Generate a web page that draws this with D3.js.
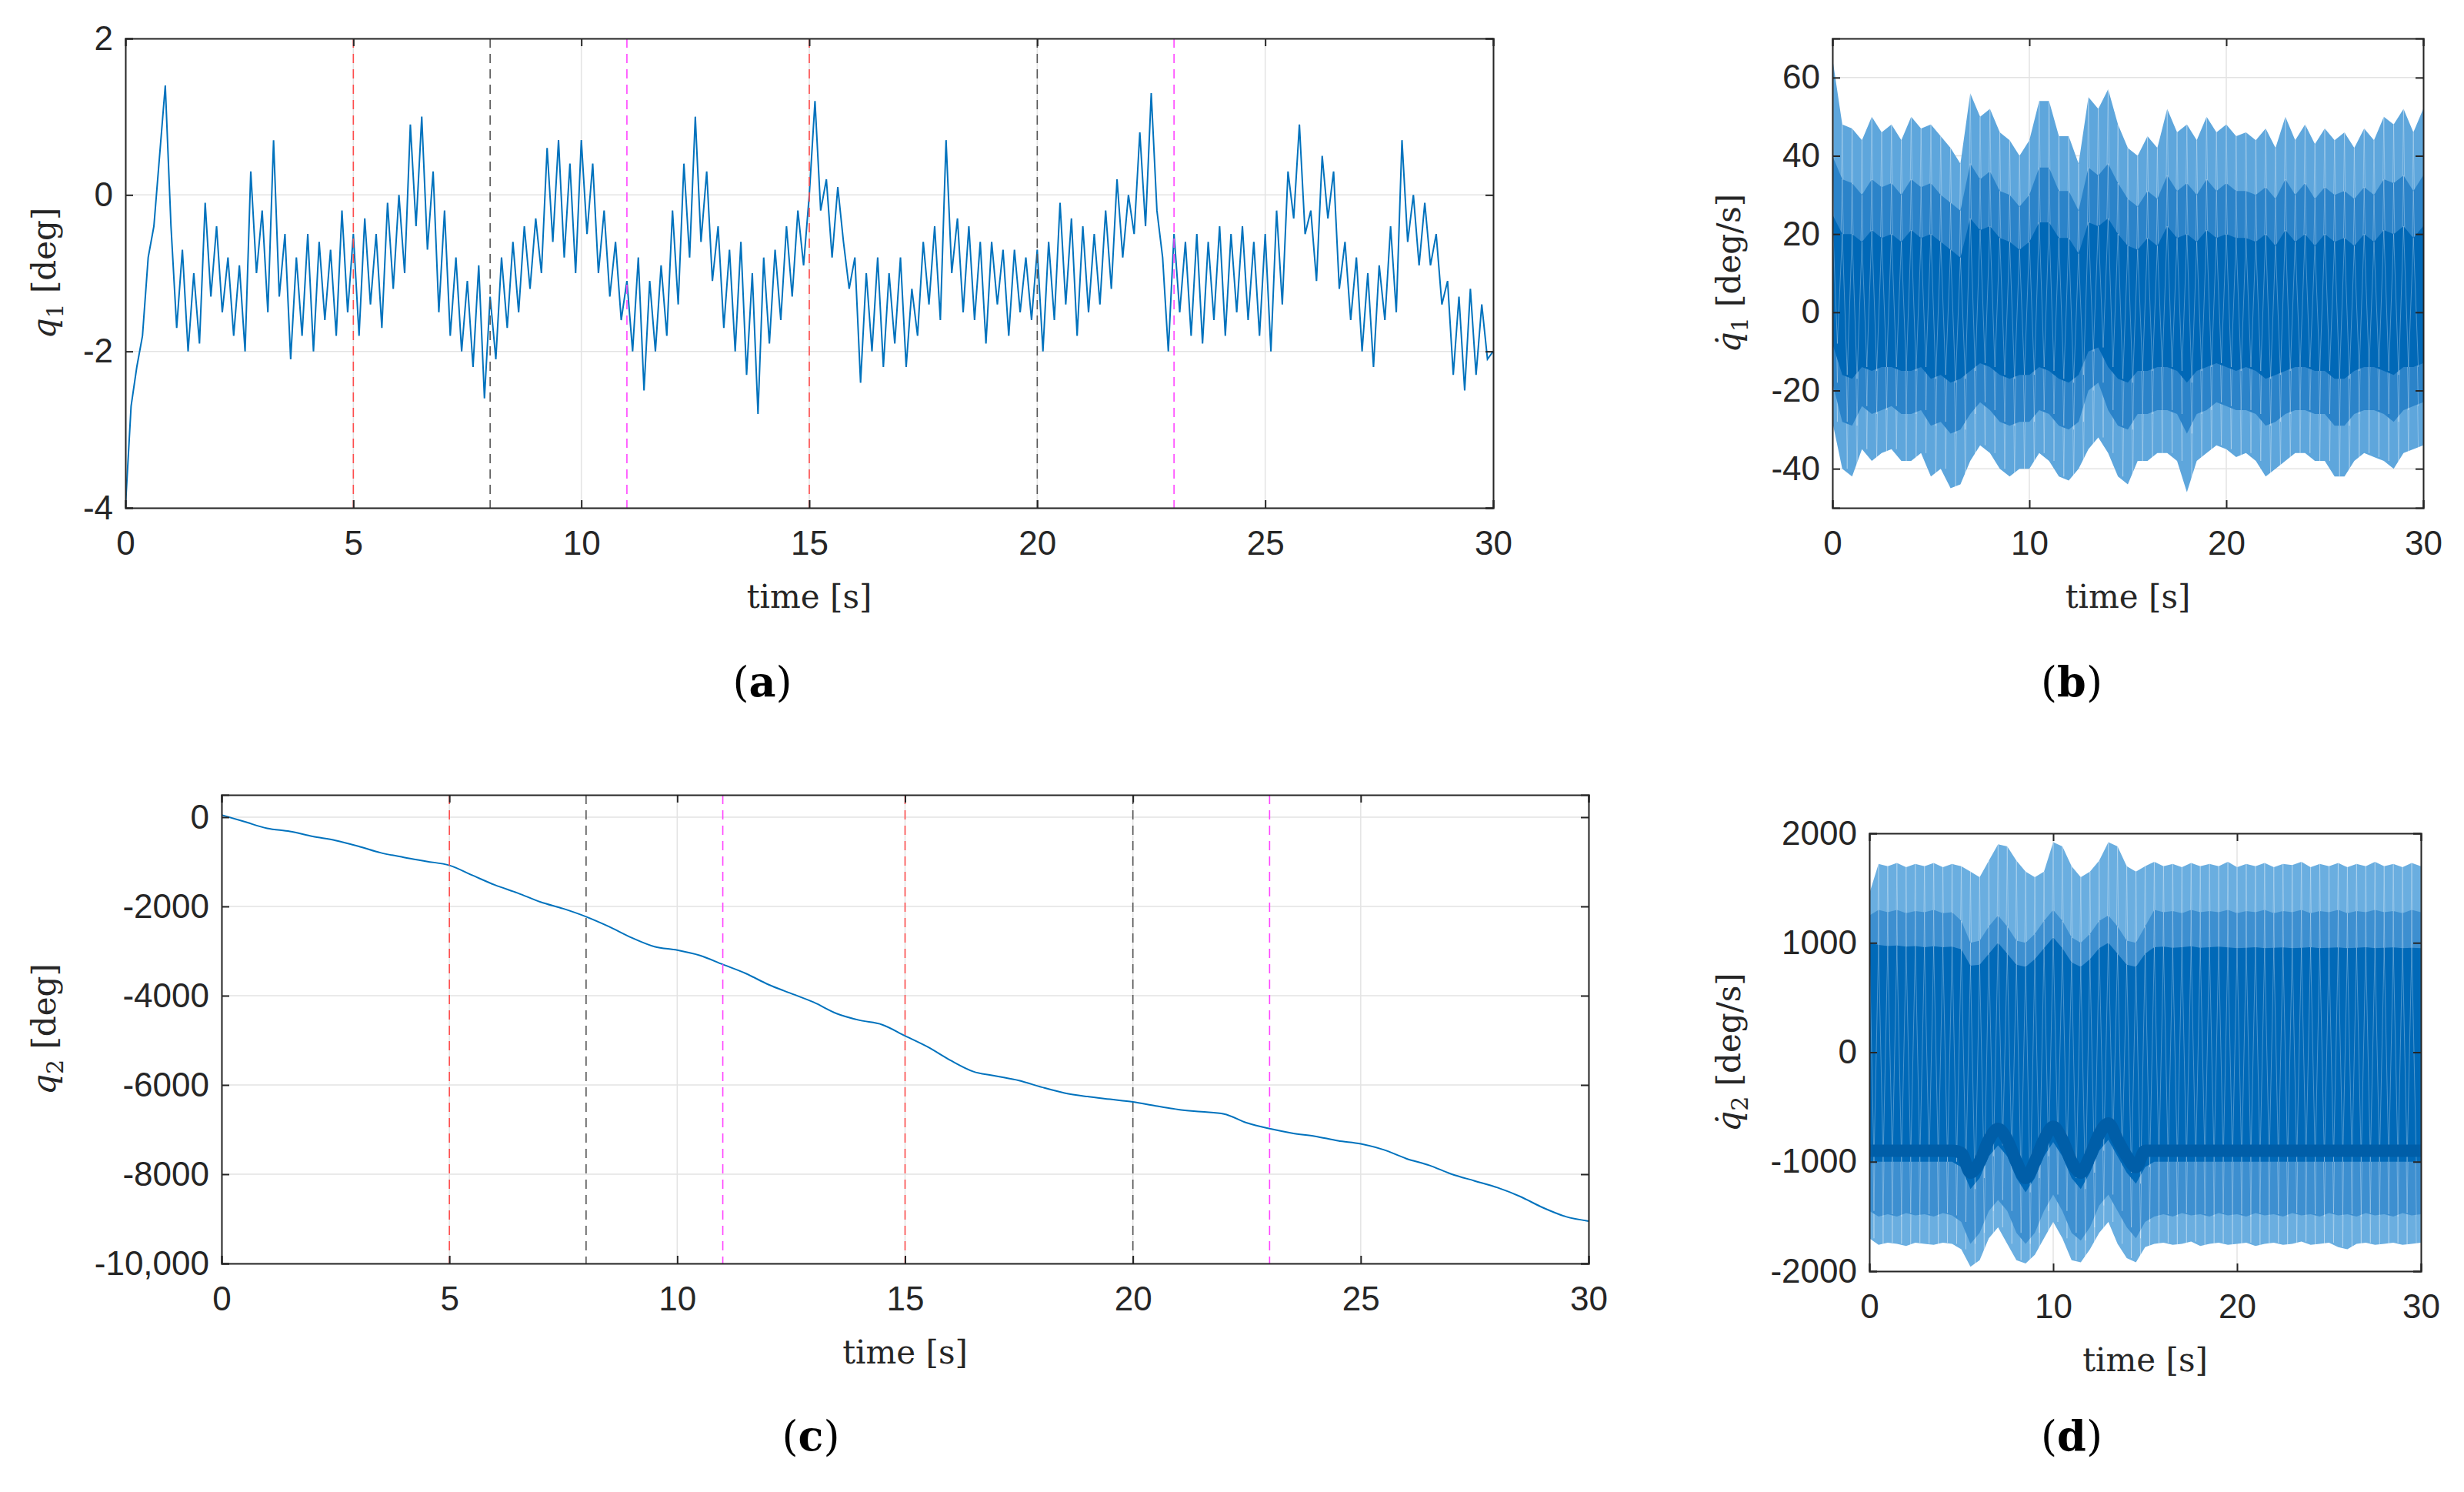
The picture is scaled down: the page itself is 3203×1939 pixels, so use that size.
<!DOCTYPE html>
<html>
<head>
<meta charset="utf-8">
<script src="https://cdn.jsdelivr.net/npm/d3@7"></script>
<style>
  body { margin: 0; background: #fff; }
  .tick text { font-family: "Liberation Sans", Arial, sans-serif; font-size: 44px; fill: #262626; }
</style>
</head>
<body>
<svg id="fig" width="3203" height="1939"></svg>
<script>
// q1 [deg], sampled every 0.125 s
const q1 = [
  -4.0,-2.7,-2.2,-1.8,-0.8,-0.4,0.5,1.4,
  -0.4,-1.7,-0.7,-2.0,-1.0,-1.9,-0.1,-1.3,
  -0.4,-1.5,-0.8,-1.8,-0.9,-2.0,0.3,-1.0,
  -0.2,-1.5,0.7,-1.3,-0.5,-2.1,-0.8,-1.8,
  -0.5,-2.0,-0.6,-1.6,-0.7,-1.8,-0.2,-1.5,
  -0.5,-1.8,-0.3,-1.4,-0.5,-1.7,-0.1,-1.2,
  0.0,-1.0,0.9,-0.4,1.0,-0.7,0.3,-1.5,
  -0.2,-1.8,-0.8,-2.0,-1.1,-2.2,-0.9,-2.6,
  -1.3,-2.1,-0.8,-1.7,-0.6,-1.5,-0.4,-1.2,
  -0.3,-1.0,0.6,-0.6,0.7,-0.8,0.4,-1.0,
  0.7,-0.5,0.4,-1.0,-0.2,-1.3,-0.6,-1.6,
  -1.1,-2.0,-0.8,-2.5,-1.1,-2.0,-0.9,-1.8,
  -0.2,-1.4,0.4,-0.8,1.0,-0.6,0.3,-1.1,
  -0.4,-1.7,-0.7,-2.0,-0.6,-2.3,-1.0,-2.8,
  -0.8,-1.9,-0.7,-1.6,-0.4,-1.3,-0.2,-0.9,
  0.0,1.2,-0.2,0.2,-0.8,0.1,-0.6,-1.2,
  -0.8,-2.4,-1.0,-2.0,-0.8,-2.2,-1.0,-1.9,
  -0.8,-2.2,-1.2,-1.8,-0.6,-1.4,-0.4,-1.6,
  0.7,-1.0,-0.3,-1.5,-0.4,-1.6,-0.6,-1.9,
  -0.6,-1.4,-0.7,-1.8,-0.7,-1.5,-0.8,-1.6,
  -0.7,-2.0,-0.6,-1.6,-0.1,-1.4,-0.3,-1.8,
  -0.4,-1.5,-0.5,-1.4,-0.2,-1.2,0.2,-0.8,
  0.0,-0.5,0.8,-0.4,1.3,-0.2,-0.8,-2.0,
  -0.5,-1.5,-0.6,-1.8,-0.5,-1.9,-0.6,-1.6,
  -0.4,-1.8,-0.5,-1.5,-0.4,-1.6,-0.6,-1.8,
  -0.5,-2.0,-0.2,-1.4,0.3,-0.3,0.9,-0.5,
  -0.2,-1.1,0.5,-0.3,0.3,-1.2,-0.6,-1.6,
  -0.8,-2.0,-1.0,-2.2,-0.9,-1.6,-0.4,-1.5,
  0.7,-0.6,0.0,-0.9,-0.1,-0.9,-0.5,-1.4,
  -1.1,-2.3,-1.3,-2.5,-1.2,-2.3,-1.4,-2.1,
  -2.0
];
const q1Step = 0.125;

// q2 [deg], every 0.5 s
const q2 = [50,-100,-250,-320,-430,-520,-650,-800,-900,-990,-1080,-1300,-1520,-1700,-1900,-2050,
  -2230,-2450,-2700,-2900,-2980,-3100,-3300,-3500,-3750,-3950,-4150,-4400,-4550,-4650,-4900,
  -5150,-5450,-5700,-5800,-5900,-6050,-6180,-6260,-6320,-6380,-6470,-6550,-6600,-6650,-6850,
  -6980,-7080,-7150,-7250,-7320,-7450,-7650,-7800,-8000,-8150,-8300,-8500,-8750,-8950,-9050];
const q2Step = 0.5;

// dq1 envelopes [deg/s], every 0.5 s
const dq1Upper = [65,48,47,44,50,46,48,44,50,47,48,45,42,38,56,50,52,46,44,40,44,54,
  54,45,45,38,55,52,57,48,42,40,45,42,52,46,48,44,50,46,48,45,46,44,47,42,50,44,48,43,47,44,
  46,42,47,44,50,48,52,46,52];
const dq1Lower = [-28,-40,-42,-35,-38,-36,-35,-38,-38,-36,-42,-40,-45,-44,-38,-34,-36,-40,-42,-40,-40,-36,
  -38,-42,-43,-40,-35,-32,-36,-42,-44,-38,-38,-36,-36,-38,-46,-38,-36,-34,-35,-37,-36,-38,-42,-40,-38,-36,-36,-38,-38,
  -42,-42,-38,-36,-37,-38,-40,-36,-35,-34];
const dq1MidUp = [40,34,33,30,34,32,33,30,34,32,33,30,28,26,38,34,36,31,30,27,30,37,
  37,31,31,26,37,35,38,33,29,27,31,29,35,31,33,30,34,31,33,31,31,30,32,29,34,30,33,29,32,30,
  31,29,32,30,34,33,35,31,35];
const dq1MidLow = [-18,-28,-29,-24,-26,-25,-24,-26,-26,-25,-29,-28,-31,-30,-26,-23,-25,-28,-29,-28,-28,-25,
  -26,-29,-30,-28,-20,-18,-25,-29,-30,-26,-26,-25,-25,-26,-31,-26,-25,-23,-24,-25,-25,-26,-29,-28,-26,-25,-25,-26,-26,
  -29,-29,-26,-25,-25,-26,-28,-25,-24,-23];
const dq1CoreUp = [25,20,20,18,21,19,20,18,21,19,20,18,16,14,24,21,22,19,18,16,18,23,
  23,19,19,15,23,22,24,20,17,16,19,17,22,19,20,18,21,19,20,19,19,18,20,17,21,18,20,17,20,18,
  19,17,20,18,21,20,22,19,22];
const dq1CoreLow = [-8,-16,-17,-14,-15,-14,-14,-15,-15,-14,-17,-16,-18,-17,-15,-13,-14,-16,-17,-16,-16,-14,
  -15,-17,-18,-16,-10,-9,-14,-17,-18,-15,-15,-14,-14,-15,-18,-15,-14,-13,-14,-15,-14,-15,-17,-16,-15,-14,-14,-15,-15,
  -17,-17,-15,-14,-14,-15,-16,-14,-14,-13];
const dq1Step = 0.5;

// dq2 envelopes [deg/s], every 0.5 s
const dq2Upper = [1450,1720,1700,1730,1690,1720,1700,1730,1690,1720,1700,1650,1600,1750,1900,1880,1750,1650,1600,1650,1920,1880,1700,1600,1650,1750,1920,1880,1700,1650,
  1700,1740,1700,1720,1690,1730,1700,1720,1700,1740,1690,1720,1700,1730,1690,1720,1710,1740,1690,1720,1700,1730,1690,1720,1700,1740,1700,1720,1690,1730,1700];
const dq2Lower = [-1700,-1760,-1740,-1750,-1770,-1740,-1750,-1760,-1740,-1750,-1800,-1960,-1900,-1700,-1600,-1750,-1900,-1930,-1850,-1700,-1550,-1700,-1900,-1920,-1800,-1650,-1550,-1750,-1880,-1920,
  -1780,-1750,-1740,-1760,-1750,-1730,-1770,-1750,-1740,-1760,-1750,-1740,-1770,-1750,-1740,-1760,-1750,-1730,-1760,-1750,-1740,-1780,-1800,-1750,-1740,-1760,-1750,-1740,-1760,-1750,-1740];
const dq2MidUp = [1250,1300,1280,1300,1270,1290,1280,1300,1270,1280,1200,1000,1020,1150,1250,1150,1020,1000,1080,1200,1300,1200,1050,1000,1080,1200,1250,1150,1020,1000,
  1150,1300,1280,1290,1270,1300,1280,1290,1280,1300,1270,1290,1280,1300,1270,1290,1280,1300,1270,1290,1280,1300,1270,1290,1280,1300,1280,1290,1270,1300,1280];
const dq2CoreUp = [1000,980,970,975,965,970,960,968,960,965,940,790,800,900,1000,900,800,780,850,950,1050,950,820,780,850,950,1000,900,800,780,
  900,960,965,955,960,968,955,960,965,958,950,955,960,950,955,958,950,955,960,950,955,958,950,955,960,950,955,958,950,955,950];
const dq2CoreLow = [-1000,-1000,-1000,-1000,-1000,-1000,-1000,-1000,-1000,-1000,-1050,-1250,-1150,-950,-850,-950,-1150,-1280,-1150,-950,-820,-950,-1150,-1250,-1100,-900,-800,-950,-1100,-1200,
  -1050,-1000,-1000,-1000,-1000,-1000,-1000,-1000,-1000,-1000,-1000,-1000,-1000,-1000,-1000,-1000,-1000,-1000,-1000,-1000,-1000,-1000,-1000,-1000,-1000,-1000,-1000,-1000,-1000,-1000,-1000];
const dq2MidLow = [-1450,-1500,-1480,-1500,-1470,-1490,-1480,-1500,-1470,-1490,-1550,-1750,-1650,-1450,-1350,-1450,-1650,-1750,-1650,-1450,-1300,-1450,-1650,-1720,-1600,-1400,-1300,-1450,-1600,-1700,
  -1550,-1500,-1480,-1500,-1470,-1490,-1480,-1500,-1470,-1490,-1480,-1500,-1470,-1490,-1480,-1500,-1470,-1490,-1480,-1500,-1470,-1490,-1480,-1500,-1470,-1490,-1480,-1500,-1470,-1490,-1480];
const dq2Bias = [-900,-900,-900,-900,-900,-900,-900,-900,-900,-900,-920,-1100,-1000,-800,-700,-800,-1000,-1150,-1000,-800,-680,-800,-1000,-1100,-950,-750,-650,-800,-950,-1050,
  -900,-900,-900,-900,-900,-900,-900,-900,-900,-900,-900,-900,-900,-900,-900,-900,-900,-900,-900,-900,-900,-900,-900,-900,-900,-900,-900,-900,-900,-900,-900];
const dq2Step = 0.5;

// event markers (a),(c)
const eventTimes = [5, 8, 11, 15, 20, 23];
const eventColors = ["#ff4d4d", "#555555", "#ff44ff", "#ff4d4d", "#555555", "#ff44ff"];

const blue = "#0072BD";
const svg = d3.select("#fig");

function panel(o) {
  const g = svg.append("g");
  const x = d3.scaleLinear().domain([0, 30]).range([o.left, o.right]);
  const y = d3.scaleLinear().domain(o.ydom).range([o.bottom, o.top]);
  const w = o.right - o.left, h = o.bottom - o.top;

  g.selectAll(".gx").data(o.xticks).enter().append("line")
    .attr("x1", d => x(d)).attr("x2", d => x(d)).attr("y1", o.top).attr("y2", o.bottom)
    .attr("stroke", "#e3e3e3").attr("stroke-width", 1.5);
  g.selectAll(".gy").data(o.yticks).enter().append("line")
    .attr("y1", d => y(d)).attr("y2", d => y(d)).attr("x1", o.left).attr("x2", o.right)
    .attr("stroke", "#e3e3e3").attr("stroke-width", 1.5);

  const clip = "clip" + o.id;
  svg.append("clipPath").attr("id", clip).append("rect")
    .attr("x", o.left).attr("y", o.top).attr("width", w).attr("height", h);
  const plot = g.append("g").attr("clip-path", `url(#${clip})`);
  o.draw(plot, x, y);

  if (o.events) {
    g.selectAll(".ev").data(eventTimes).enter().append("line")
      .attr("x1", d => x(d)).attr("x2", d => x(d)).attr("y1", o.top).attr("y2", o.bottom)
      .attr("stroke", (d, i) => eventColors[i]).attr("stroke-width", 1.6)
      .attr("stroke-dasharray", "12,8");
  }

  const xa = g.append("g").attr("transform", `translate(0,${o.bottom})`)
    .call(d3.axisBottom(x).tickValues(o.xticks).tickSize(-10).tickPadding(30));
  const xt = g.append("g").attr("transform", `translate(0,${o.top})`)
    .call(d3.axisTop(x).tickValues(o.xticks).tickSize(-10).tickFormat(""));
  const ya = g.append("g").attr("transform", `translate(${o.left},0)`)
    .call(d3.axisLeft(y).tickValues(o.yticks).tickSize(-10).tickPadding(16)
      .tickFormat((d, i) => o.ylabels[i]));
  const yr = g.append("g").attr("transform", `translate(${o.right},0)`)
    .call(d3.axisRight(y).tickValues(o.yticks).tickSize(-10).tickFormat(""));
  [xa, xt, ya, yr].forEach(a => {
    a.select(".domain").attr("stroke", "#262626").attr("stroke-width", 2);
    a.selectAll(".tick line").attr("stroke", "#262626").attr("stroke-width", 2);
  });

  g.append("text").attr("x", (o.left + o.right) / 2).attr("y", o.bottom + 130)
    .attr("text-anchor", "middle").attr("font-family", "DejaVu Serif, serif")
    .attr("font-size", 42).attr("fill", "#262626").text("time [s]");

  const yl = g.append("text")
    .attr("transform", `translate(${o.ylabX},${(o.top + o.bottom) / 2}) rotate(-90)`)
    .attr("text-anchor", "middle").attr("font-family", "DejaVu Serif, serif")
    .attr("font-size", 42).attr("fill", "#262626");
  yl.append("tspan").attr("font-style", "italic").text(o.dot ? "q\u0307" : "q");
  yl.append("tspan").attr("font-size", 30).attr("dy", 10).text(o.sub);
  yl.append("tspan").attr("dy", -10).text(o.unit);

  svg.append("text").attr("x", o.tagX).attr("y", o.tagY).attr("text-anchor", "middle")
    .attr("font-family", "DejaVu Serif, serif").attr("font-size", 54).attr("fill", "#000")
    .html("(<tspan font-weight='bold'>" + o.tag + "</tspan>)");
}

function band(plot, x, y, step, up, low, color) {
  const area = d3.area().x((d, i) => x(i * step)).y0((d, i) => y(low[i])).y1(d => y(d));
  plot.append("path").datum(up).attr("d", area).attr("fill", color);
  // thin light strokes suggesting the dense oscillation
  const zig = [];
  up.forEach((d, i) => {
    if (i < up.length - 1) {
      zig.push([x(i * step), y(d)]);
      zig.push([x((i + 0.5) * step), y(low[i])]);
    }
  });
  plot.append("path").attr("d", d3.line()(zig)).attr("fill", "none")
    .attr("stroke", "#ffffff").attr("stroke-width", 1).attr("opacity", 0.3);
}

// (a)
panel({
  id: "a", left: 163, right: 1941, top: 50, bottom: 660, ydom: [-4, 2],
  xticks: [0, 5, 10, 15, 20, 25, 30], yticks: [-4, -2, 0, 2], ylabels: ["-4", "-2", "0", "2"],
  events: true, ylabX: 72, sub: "1", unit: " [deg]", dot: false,
  tag: "a", tagX: 991, tagY: 905,
  draw: (p, x, y) => {
    p.append("path").datum(q1)
      .attr("d", d3.line().x((d, i) => x(i * q1Step)).y(d => y(d)))
      .attr("fill", "none").attr("stroke", blue).attr("stroke-width", 2);
  }
});

// (b)
panel({
  id: "b", left: 2382, right: 3150, top: 50, bottom: 660, ydom: [-50, 70],
  xticks: [0, 10, 20, 30], yticks: [-40, -20, 0, 20, 40, 60], ylabels: ["-40", "-20", "0", "20", "40", "60"],
  events: false, ylabX: 2262, sub: "1", unit: " [deg/s]", dot: true,
  tag: "b", tagX: 2693, tagY: 905,
  draw: (p, x, y) => {
    band(p, x, y, dq1Step, dq1Upper, dq1Lower, "#5ea6dc");
    band(p, x, y, dq1Step, dq1MidUp, dq1MidLow, "#2b83c9");
    band(p, x, y, dq1Step, dq1CoreUp, dq1CoreLow, "#0068b7");
  }
});

// (c)
panel({
  id: "c", left: 288, right: 2065, top: 1033, bottom: 1642, ydom: [-10000, 500],
  xticks: [0, 5, 10, 15, 20, 25, 30], yticks: [-10000, -8000, -6000, -4000, -2000, 0],
  ylabels: ["-10,000", "-8000", "-6000", "-4000", "-2000", "0"],
  events: true, ylabX: 72, sub: "2", unit: " [deg]", dot: false,
  tag: "c", tagX: 1054, tagY: 1885,
  draw: (p, x, y) => {
    p.append("path").datum(q2)
      .attr("d", d3.line().x((d, i) => x(i * q2Step)).y(d => y(d)).curve(d3.curveMonotoneX))
      .attr("fill", "none").attr("stroke", blue).attr("stroke-width", 2);
  }
});

// (d)
panel({
  id: "d", left: 2430, right: 3147, top: 1083, bottom: 1652, ydom: [-2000, 2000],
  xticks: [0, 10, 20, 30], yticks: [-2000, -1000, 0, 1000, 2000],
  ylabels: ["-2000", "-1000", "0", "1000", "2000"],
  events: false, ylabX: 2262, sub: "2", unit: " [deg/s]", dot: true,
  tag: "d", tagX: 2693, tagY: 1885,
  draw: (p, x, y) => {
    band(p, x, y, dq2Step, dq2Upper, dq2Lower, "#6aaee0");
    band(p, x, y, dq2Step, dq2MidUp, dq2MidLow, "#3d8fd0");
    band(p, x, y, dq2Step, dq2CoreUp, dq2CoreLow, "#0069b8");
    p.append("path").datum(dq2Bias)
      .attr("d", d3.line().x((d, i) => x(i * dq2Step)).y(d => y(d)).curve(d3.curveMonotoneX))
      .attr("fill", "none").attr("stroke", "#005ea8").attr("stroke-width", 16);
  }
});
</script>
</body>
</html>
